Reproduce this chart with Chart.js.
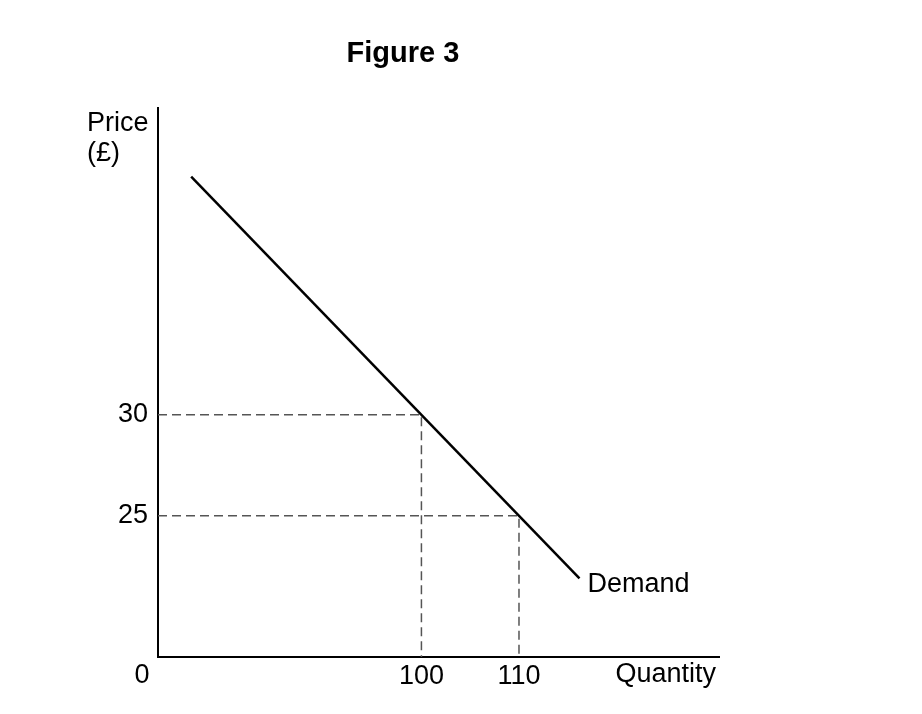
<!DOCTYPE html>
<html>
<head>
<meta charset="utf-8">
<title>Figure 3</title>
<script src="https://cdn.jsdelivr.net/npm/chart.js"></script>
<style>
	html, body { margin: 0; padding: 0; background: #fff; }
	#demand-chart { display: block; }
</style>
</head>
<body>
<canvas id="demand-chart" width="922" height="714"></canvas>
<script>
	// Demand curve end points (quantity, price)
	var demandQty = [76.4, 116.2];
	var demandPrice = [41.8, 21.9];

	// Points picked out with dashed guide lines
	var markQty = [100, 110];
	var markPrice = [30, 25];

	// Axis ticks and ranges
	var qtyTicks = [100, 110];
	var priceTicks = [25, 30];
	var qtyRange = [73, 130.5];
	var priceRange = [18, 45.2];

	var FONT = 'Arial, "Liberation Sans", sans-serif';

	Chart.defaults.color = '#000';
	Chart.defaults.font.family = FONT;

	/***************************************
	            Datasets
	***************************************/

	var datasets = [{
		label: 'Demand',
		data: demandQty.map(function(q, i) { return {x: q, y: demandPrice[i]}; }),
		borderColor: '#000',
		borderWidth: 2.5,
		pointRadius: 0,
		showLine: true
	}];

	// Dashed guides: from the price axis to the curve, then down to the quantity axis
	markQty.forEach(function(q, i) {
		datasets.push({
			label: 'guide ' + q,
			data: [
				{x: qtyRange[0], y: markPrice[i]},
				{x: q, y: markPrice[i]},
				{x: q, y: priceRange[0]}
			],
			borderColor: '#555',
			borderWidth: 1.5,
			borderDash: [9, 5],
			pointRadius: 0,
			showLine: true
		});
	});

	/***************************************
	        Free text on the figure
	***************************************/

	var figureText = {
		id: 'figureText',
		afterDraw: function(chart) {
			var ctx = chart.ctx;
			var area = chart.chartArea;
			var xs = chart.scales.x, ys = chart.scales.y;
			var last = demandQty.length - 1;
			var endX = xs.getPixelForValue(demandQty[last]);
			var endY = ys.getPixelForValue(demandPrice[last]);

			ctx.save();
			ctx.fillStyle = '#000';
			ctx.textBaseline = 'alphabetic';

			ctx.font = 'bold 29px ' + FONT;
			ctx.textAlign = 'center';
			ctx.fillText('Figure 3', 403, 62);

			ctx.font = '27px ' + FONT;
			ctx.textAlign = 'left';
			ctx.fillText('Price', area.left - 71, area.top + 23);
			ctx.fillText('(£)', area.left - 71, area.top + 53);
			ctx.fillText('Demand', endX + 8, endY + 14);

			ctx.textAlign = 'center';
			ctx.fillText('0', area.left - 16, area.bottom + 26);

			ctx.textAlign = 'right';
			ctx.fillText('Quantity', area.right - 3, area.bottom + 25);
			ctx.restore();
		}
	};

	/***************************************
	              Chart
	***************************************/

	new Chart(document.getElementById('demand-chart').getContext('2d'), {
		type: 'scatter',
		data: { datasets: datasets },
		plugins: [figureText],
		options: {
			responsive: false,
			animation: false,
			layout: { padding: { top: 108, right: 203, left: 0, bottom: 0 } },
			plugins: {
				legend: { display: false },
				tooltip: { enabled: false }
			},
			scales: {
				x: {
					type: 'linear',
					min: qtyRange[0],
					max: qtyRange[1],
					afterBuildTicks: function(scale) {
						scale.ticks = qtyTicks.map(function(v) { return {value: v}; });
					},
					afterFit: function(scale) { scale.height = 57; },
					grid: { display: false, drawTicks: false },
					border: { display: true, color: '#000', width: 2 },
					ticks: { padding: 3, font: { size: 27 }, maxRotation: 0 }
				},
				y: {
					type: 'linear',
					min: priceRange[0],
					max: priceRange[1],
					afterBuildTicks: function(scale) {
						scale.ticks = priceTicks.map(function(v) { return {value: v}; });
					},
					afterFit: function(scale) { scale.width = 158; },
					grid: { display: false, drawTicks: false },
					border: { display: true, color: '#000', width: 2 },
					ticks: { padding: 10, font: { size: 27 } }
				}
			}
		}
	});
</script>
</body>
</html>
